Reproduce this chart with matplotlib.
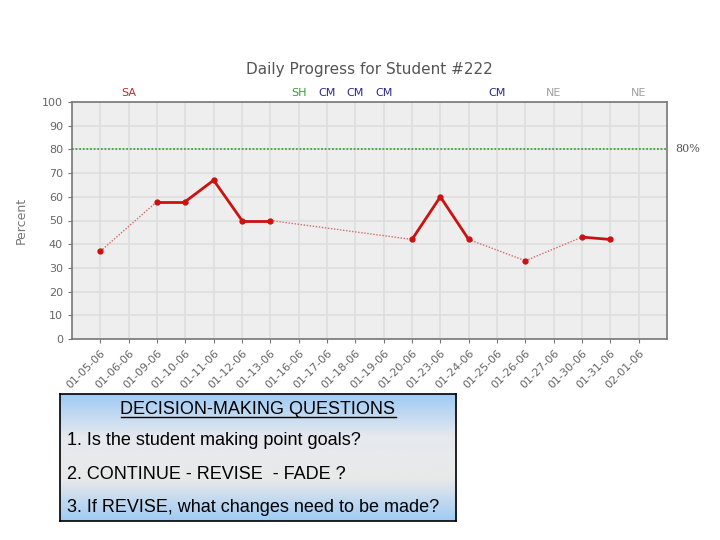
import numpy as np
import matplotlib.pyplot as plt
from matplotlib.colors import LinearSegmentedColormap

dates = ['01-05-06', '01-06-06', '01-09-06', '01-10-06', '01-11-06', '01-12-06',
         '01-13-06', '01-16-06', '01-17-06', '01-18-06', '01-19-06', '01-20-06',
         '01-23-06', '01-24-06', '01-25-06', '01-26-06', '01-27-06', '01-30-06',
         '01-31-06', '02-01-06']
percent = [37, np.nan, 58, 58, 67, 50, 50, np.nan, np.nan, np.nan, np.nan, 42,
           60, 42, np.nan, 33, np.nan, 43, 42, np.nan]
codes = ['', 'SA', '', '', '', '', '', 'SH', 'CM', 'CM', 'CM', '', '', '', 'CM',
         '', 'NE', '', '', 'NE']
code_colors = {'SA': '#b03030', 'SH': '#3a9a3a', 'CM': '#2a2a8a', 'NE': '#a0a0a0'}
goal = 80

questions_title = 'DECISION-MAKING QUESTIONS'
questions = ['1. Is the student making point goals?',
             '2. CONTINUE - REVISE  - FADE ?',
             '3. If REVISE, what changes need to be made?']

fig = plt.figure(figsize=(7.2, 5.4), dpi=100)
ax = fig.add_axes([72 / 720, 1 - 339 / 540, 595 / 720, 237 / 540])
ax.set_facecolor('#eeeeee')

x = np.arange(len(dates))
ax.set_xlim(-1, len(dates))
ax.set_ylim(0, 100)
ax.set_xticks(x)
ax.set_xticklabels(dates, rotation=45, ha='right', rotation_mode='anchor',
                   fontsize=8, color='#666666')
ax.set_yticks(np.arange(0, 101, 10))
ax.tick_params(axis='y', labelsize=8, labelcolor='#666666', color='#777777',
               length=3)
ax.tick_params(axis='x', color='#777777', length=3)
ax.grid(True, color='#dedede', linewidth=1.2)
ax.set_axisbelow(True)
for s in ax.spines.values():
    s.set_color('#777777')
    s.set_linewidth(1.2)

ax.axhline(goal, color='#33aa33', linestyle=(0, (1, 1)), linewidth=1.3)
ax.annotate('80%', xy=(1, goal), xycoords=('axes fraction', 'data'),
            xytext=(6, 0), textcoords='offset points', va='center',
            fontsize=8, color='#555555', family='DejaVu Serif')

# connect points: solid for consecutive days, dotted over gaps
idx = [i for i, v in enumerate(percent) if not np.isnan(v)]
for a, b in zip(idx[:-1], idx[1:]):
    if b - a == 1:
        ax.plot([a, b], [percent[a], percent[b]], color='#cc1111', linewidth=2)
    else:
        ax.plot([a, b], [percent[a], percent[b]], color='#d46a6a',
                linewidth=1, linestyle=(0, (1, 1.2)))
ax.plot(x, percent, 'o', color='#cc1111', markersize=3.5, linestyle='none')

for i, c in enumerate(codes):
    if c:
        ax.text(i, 101.5, c, ha='center', va='bottom', fontsize=8,
                color=code_colors[c])

ax.set_title('Daily Progress for Student #222', fontsize=11, color='#555555',
             pad=20)
ax.set_ylabel('Percent', fontsize=9, color='#777777', labelpad=10)

# question box with vertical gradient
bx = fig.add_axes([60 / 720, 1 - 521 / 540, 396 / 720, 127 / 540])
cmap = LinearSegmentedColormap.from_list(
    'box', ['#9ecbf5', '#e6e9ee', '#e9e9e9', '#9ecbf5'])
grad = np.linspace(0, 1, 256).reshape(-1, 1)
bx.imshow(grad, aspect='auto', cmap=cmap, extent=[0, 1, 0, 1])
bx.set_xlim(0, 1)
bx.set_ylim(0, 1)
bx.set_xticks([])
bx.set_yticks([])
for s in bx.spines.values():
    s.set_color('black')
    s.set_linewidth(1.2)

t = bx.text(0.5, 0.875, questions_title, ha='center', va='center',
            fontsize=13, family='Liberation Sans')
ys = [0.63, 0.37, 0.11]
for yy, q in zip(ys, questions):
    bx.text(0.018, yy, q, ha='left', va='center', fontsize=13,
            family='Liberation Sans')

fig.canvas.draw()
bb = t.get_window_extent().transformed(bx.transAxes.inverted())
bx.plot([bb.x0, bb.x1], [bb.y0 + 0.01, bb.y0 + 0.01], color='black',
        linewidth=1)

fig.savefig('out.png', dpi=100)
